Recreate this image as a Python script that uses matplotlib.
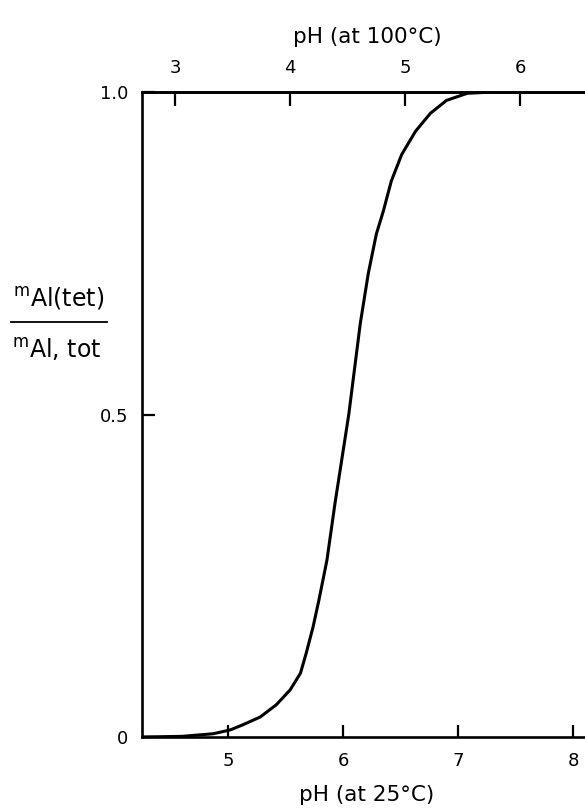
import matplotlib
matplotlib.use("Agg")
import matplotlib.pyplot as plt
from matplotlib.lines import Line2D

# Data: fraction of tetrahedral Al vs pH (25 C scale)
ph_25 = [4.25, 4.60, 4.87, 5.02, 5.13, 5.28, 5.42, 5.54, 5.63, 5.68, 5.74,
         5.79, 5.86, 5.93, 6.05, 6.15, 6.22, 6.29, 6.35, 6.42, 6.51, 6.63,
         6.76, 6.90, 7.08, 7.31, 8.10]
frac_tet = [0.0, 0.001, 0.005, 0.011, 0.019, 0.031, 0.050, 0.073, 0.099,
            0.130, 0.171, 0.212, 0.274, 0.362, 0.500, 0.641, 0.719, 0.780,
            0.815, 0.862, 0.903, 0.939, 0.967, 0.987, 0.998, 1.0, 1.0]

bottom_ticks = [5, 6, 7, 8]
top_ticks = [3, 4, 5, 6]
y_ticks = [0, 0.5, 1.0]
y_tick_labels = ["0", "0.5", "1.0"]

# pH at 100 C is shifted against pH at 25 C
PH_SHIFT = 1.54

plt.rcParams['font.family'] = ['DejaVu Sans']

fig = plt.figure(figsize=(5.85, 8.09), dpi=100)
ax = fig.add_axes([142 / 585, 72 / 809, 443 / 585, 645 / 809])

ax.plot(ph_25, frac_tet, color='black', linewidth=2.2,
        solid_joinstyle='round', clip_on=True)

ax.set_xlim(4.252, 4.252 + 443 / 115)
ax.set_ylim(0, 1.0)

for side in ['left', 'bottom', 'top']:
    ax.spines[side].set_linewidth(1.9)
ax.spines['right'].set_visible(False)

ax.set_xticks(bottom_ticks)
ax.set_xticklabels([str(t) for t in bottom_ticks])
ax.set_yticks(y_ticks)
ax.set_yticklabels(y_tick_labels)
ax.tick_params(axis='x', direction='in', length=9, width=1.6, pad=11,
               labelsize=13)
ax.tick_params(axis='y', direction='in', length=9, width=1.6, pad=10,
               labelsize=13)

top = ax.secondary_xaxis('top', functions=(lambda x: x - PH_SHIFT,
                                           lambda x: x + PH_SHIFT))
top.set_xticks(top_ticks)
top.set_xticklabels([str(t) for t in top_ticks])
top.tick_params(direction='in', length=10, width=1.6, pad=11, labelsize=13)
top.spines['top'].set_linewidth(1.9)

fig.text(367 / 585, 1 - 37 / 809, "pH (at 100°C)", ha='center', va='center',
         fontsize=15.5)
fig.text(367 / 585, 1 - 795 / 809, "pH (at 25°C)", ha='center', va='center',
         fontsize=15.5)

# y label drawn as a fraction
fig.text(59 / 585, 1 - 298 / 809, r"$^{\rm m}$Al(tet)", ha='center',
         va='center', fontsize=17)
fig.text(57 / 585, 1 - 350 / 809, r"$^{\rm m}$Al, tot", ha='center',
         va='center', fontsize=17)
fig.add_artist(Line2D([11 / 585, 107 / 585], [1 - 322 / 809, 1 - 322 / 809],
                      color='black', linewidth=1.3))

fig.savefig("out.png", dpi=100)
